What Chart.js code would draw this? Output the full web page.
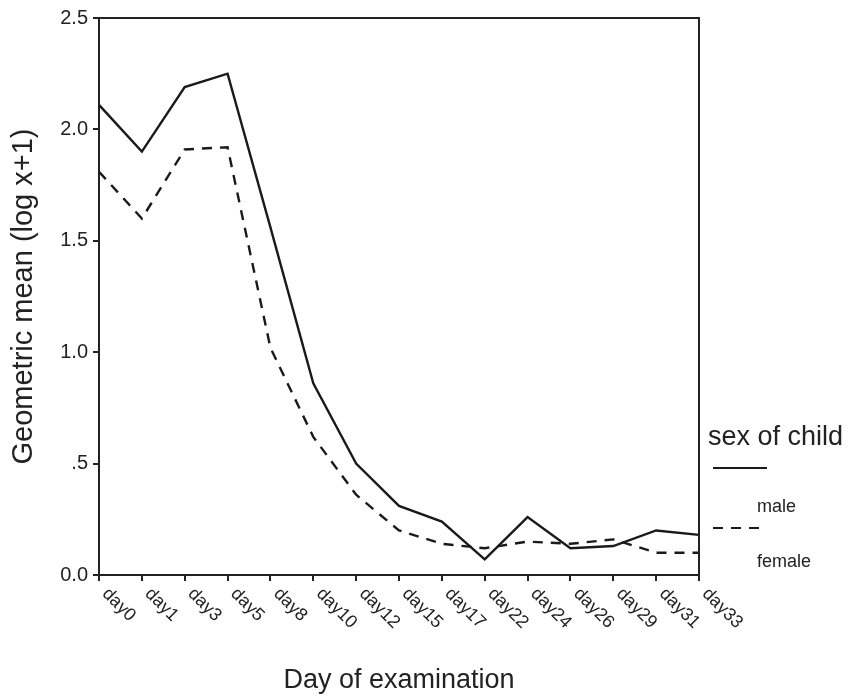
<!DOCTYPE html>
<html>
<head>
<meta charset="utf-8">
<script src="https://cdn.jsdelivr.net/npm/chart.js@4"></script>
<style>
  html, body { margin: 0; padding: 0; background: #fff; }
  #box { width: 849px; height: 697px; }
</style>
</head>
<body>
<div id="box"><canvas id="grafico"></canvas></div>
<script>
// dados
var dias = ['day0','day1','day3','day5','day8','day10','day12','day15','day17','day22','day24','day26','day29','day31','day33'];
var masculino = [2.11, 1.90, 2.19, 2.25, 1.56, 0.86, 0.50, 0.31, 0.24, 0.07, 0.26, 0.12, 0.13, 0.20, 0.18];
var feminino = [1.81, 1.60, 1.91, 1.92, 1.02, 0.62, 0.36, 0.20, 0.14, 0.12, 0.15, 0.14, 0.16, 0.10, 0.10];
var ticksY = [0, 0.5, 1.0, 1.5, 2.0, 2.5];
var ticksYTexto = ['0.0', '.5', '1.0', '1.5', '2.0', '2.5'];

var fonte = '"Liberation Sans", Arial, sans-serif';
var cor = '#222';

Chart.defaults.font.family = fonte;
Chart.defaults.color = cor;

// desenha a moldura, os nomes dos dias inclinados e a legenda
var extras = {
    id: 'extras',
    afterDraw: function (chart) {
        var ctx = chart.ctx;
        var area = chart.chartArea;
        var escalaX = chart.scales.x;

        ctx.save();
        ctx.strokeStyle = cor;
        ctx.lineWidth = 2;
        ctx.beginPath();
        ctx.moveTo(area.left, area.top);
        ctx.lineTo(area.right, area.top);
        ctx.lineTo(area.right, area.bottom);
        ctx.stroke();

        // nomes do eixo x, girados 45 graus para baixo
        ctx.fillStyle = cor;
        ctx.font = '18px ' + fonte;
        ctx.textAlign = 'left';
        ctx.textBaseline = 'middle';
        for (var i = 0; i < dias.length; i++) {
            var x = escalaX.getPixelForValue(i);
            ctx.save();
            ctx.translate(x + 6, area.bottom + 16);
            ctx.rotate(Math.PI / 4);
            ctx.fillText(dias[i], 0, 0);
            ctx.restore();
        }

        // legenda
        var lx = area.right + 14;
        ctx.font = '27px ' + fonte;
        ctx.textBaseline = 'alphabetic';
        ctx.fillText('sex of child', area.right + 9, 445);

        var sets = chart.data.datasets;
        var linhas = [468, 528];
        var textos = [507, 562];
        for (var j = 0; j < sets.length; j++) {
            ctx.setLineDash(sets[j].borderDash || []);
            ctx.lineWidth = 2.2;
            ctx.strokeStyle = sets[j].borderColor;
            ctx.beginPath();
            ctx.moveTo(lx, linhas[j]);
            ctx.lineTo(lx + 54, linhas[j]);
            ctx.stroke();
            ctx.setLineDash([]);
            ctx.font = '18px ' + fonte;
            ctx.textBaseline = 'middle';
            ctx.fillText(sets[j].label, lx + 44, textos[j]);
        }
        ctx.restore();
    }
};

var config = {
    type: 'line',
    data: {
        labels: dias,
        datasets: [
            {
                label: 'male',
                data: masculino,
                borderColor: '#1a1a1a',
                borderWidth: 2.4,
                pointRadius: 0,
                tension: 0,
                fill: false
            },
            {
                label: 'female',
                data: feminino,
                borderColor: '#1a1a1a',
                borderWidth: 2.4,
                borderDash: [10, 8],
                pointRadius: 0,
                tension: 0,
                fill: false
            }
        ]
    },
    options: {
        responsive: true,
        maintainAspectRatio: false,
        animation: false,
        layout: { padding: { top: 18, right: 150, bottom: 0, left: 0 } },
        plugins: {
            legend: { display: false },
            tooltip: { enabled: false }
        },
        scales: {
            x: {
                offset: false,
                grid: { drawOnChartArea: false, color: cor, lineWidth: 2, tickLength: 6 },
                border: { color: cor, width: 2 },
                ticks: { display: false },
                title: {
                    display: true,
                    text: 'Day of examination',
                    font: { size: 27 },
                    padding: { top: 0, bottom: 0 }
                },
                afterFit: function (scale) { scale.height = 122; }
            },
            y: {
                min: 0,
                max: 2.5,
                afterBuildTicks: function (scale) {
                    scale.ticks = ticksY.map(function (v) { return { value: v }; });
                },
                grid: { drawOnChartArea: false, color: cor, lineWidth: 2, tickLength: 6 },
                border: { color: cor, width: 2 },
                ticks: {
                    font: { size: 20 },
                    padding: 5,
                    callback: function (v) {
                        var k = ticksY.indexOf(v);
                        return k >= 0 ? ticksYTexto[k] : '';
                    }
                },
                title: {
                    display: true,
                    text: 'Geometric mean (log x+1)',
                    font: { size: 29 },
                    padding: { top: 7, bottom: 0 }
                },
                afterFit: function (scale) { scale.width = 99; }
            }
        }
    },
    plugins: [extras]
};

var myChart = new Chart(document.getElementById('grafico'), config);
</script>
</body>
</html>
